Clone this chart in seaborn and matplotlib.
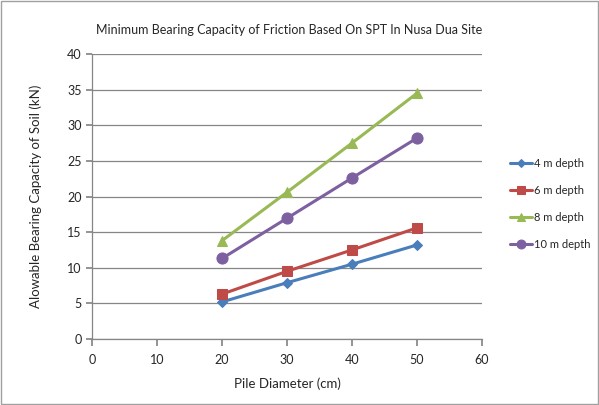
import matplotlib
matplotlib.use("Agg")
import matplotlib.pyplot as plt
import seaborn as sns
import pandas as pd

diameters = [20, 30, 40, 50]
depth4 = [5.2, 7.9, 10.5, 13.2]
depth6 = [6.3, 9.5, 12.5, 15.6]
depth8 = [13.8, 20.6, 27.5, 34.5]
depth10 = [11.3, 16.95, 22.6, 28.2]
series_names = ["4 m depth", "6 m depth", "8 m depth", "10 m depth"]
colors = ["#4A7EBB", "#BE4B48", "#98B954", "#7D60A0"]
markers = ["D", "s", "^", "o"]
msizes = [5, 7, 7, 8]

sns.set_theme(style="white")
plt.rcParams['font.family'] = ['Lato', 'DejaVu Sans']

rows = []
for name, vals in zip(series_names, [depth4, depth6, depth8, depth10]):
    for d, v in zip(diameters, vals):
        rows.append({"Pile Diameter (cm)": d, "value": v, "series": name})
df = pd.DataFrame(rows)

fig = plt.figure(figsize=(5.99, 4.05), dpi=100)
ax = fig.add_axes([92/599, 1-339/405, (482-92)/599, (339-54)/405])

for name, c, m, ms in zip(series_names, colors, markers, msizes):
    sub = df[df["series"] == name]
    sns.lineplot(data=sub, x="Pile Diameter (cm)", y="value", ax=ax, color=c,
                 marker=m, markersize=ms, markeredgecolor=c, linewidth=2.2,
                 label=name)

ax.set_xlim(0, 60)
ax.set_ylim(0, 40)
ax.set_xticks(range(0, 61, 10))
ax.set_yticks(range(0, 41, 5))
ax.grid(axis="y", color="#868686", linewidth=0.9)
ax.set_axisbelow(True)
for s in ["top", "right"]:
    ax.spines[s].set_visible(False)
for s in ["left", "bottom"]:
    ax.spines[s].set_color("#868686")
    ax.spines[s].set_linewidth(0.9)
ax.tick_params(axis="x", direction="out", length=5, color="#868686", labelsize=9, pad=6, bottom=True)
ax.tick_params(axis="y", direction="out", length=4, color="#868686", labelsize=9, left=True)
ax.set_xlabel("Pile Diameter (cm)", fontsize=9.5, labelpad=8)
ax.set_ylabel("Alowable Bearing Capacity of Soil (kN)", fontsize=9.5, labelpad=18)
fig.text(289/599, 1-30/405, "Minimum Bearing Capacity of Friction Based On SPT In Nusa Dua Site",
         ha="center", va="center", fontsize=9)

leg = ax.legend(loc="center left", bbox_to_anchor=(500/599, 1-204/405),
                bbox_transform=fig.transFigure, frameon=False, fontsize=8,
                handlelength=2.0, labelspacing=1.45, handletextpad=0.2, markerscale=0.8)

fig.patches.append(plt.Rectangle((0.002, 0.002), 0.996, 0.996, transform=fig.transFigure,
                                 fill=False, edgecolor="#A0A0A0", linewidth=1))
fig.savefig("out.png", dpi=100)
